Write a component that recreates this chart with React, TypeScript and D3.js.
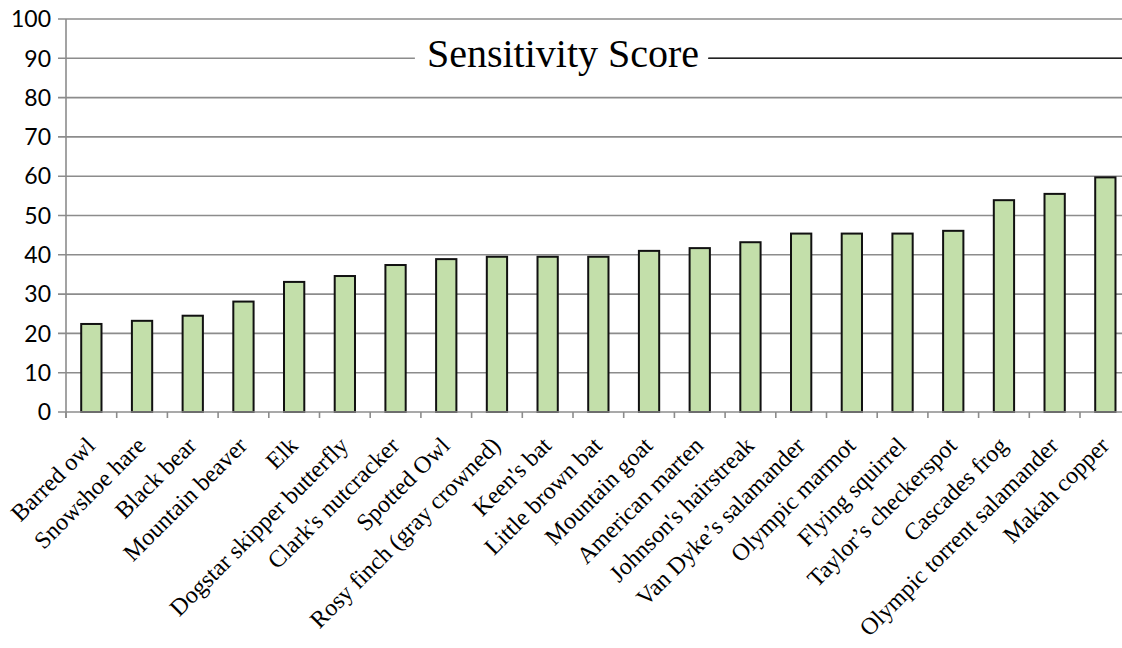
import React, { useEffect, useRef } from 'react';
import * as d3 from 'd3';

const species = [
  'Barred owl', 'Snowshoe hare', 'Black bear', 'Mountain beaver', 'Elk',
  'Dogstar skipper butterfly', "Clark's nutcracker", 'Spotted Owl',
  'Rosy finch (gray crowned)', "Keen's bat", 'Little brown bat', 'Mountain goat',
  'American marten', "Johnson's hairstreak", 'Van Dyke\u2019s salamander',
  'Olympic marmot', 'Flying squirrel', 'Taylor\u2019s checkerspot', 'Cascades frog',
  'Olympic torrent salamander', 'Makah copper',
];

const scores = [
  22.4, 23.2, 24.5, 28.1, 33.1, 34.6, 37.4, 38.9, 39.5, 39.5, 39.5, 41.0,
  41.7, 43.2, 45.4, 45.4, 45.4, 46.1, 53.9, 55.5, 59.7,
];

const yTicks = [0, 10, 20, 30, 40, 50, 60, 70, 80, 90, 100];

const chartTitle = 'Sensitivity Score';

export default function App() {
  const svgRef = useRef<SVGSVGElement>(null);

  useEffect(() => {
    if (!svgRef.current) return;
    const svg = d3.select(svgRef.current);
    svg.selectAll('*').remove();

    const left = 66;
    const right = 1130.7;
    const top = 19;
    const bottom = 412;
    const gridColor = '#8c8c8c';

    const x = d3.scaleBand<string>()
      .domain(species)
      .range([left, right])
      .paddingInner(0.6)
      .paddingOuter(0.3);

    const y = d3.scaleLinear().domain([0, 100]).range([bottom, top]);

    // gridlines and y ticks
    svg.append('g')
      .selectAll('line')
      .data(yTicks.filter(d => d !== 0))
      .enter()
      .append('line')
      .attr('x1', 58)
      .attr('x2', 1122)
      .attr('y1', d => y(d))
      .attr('y2', d => y(d))
      .attr('stroke', gridColor)
      .attr('stroke-width', 1.6);

    svg.append('g')
      .selectAll('text')
      .data(yTicks)
      .enter()
      .append('text')
      .attr('x', 51)
      .attr('y', d => y(d))
      .attr('dy', '0.36em')
      .attr('text-anchor', 'end')
      .attr('font-family', 'Lato, "Noto Sans", sans-serif')
      .attr('font-size', 23)
      .attr('fill', '#000')
      .text(d => d);

    // title over the 90 gridline
    const titleX = 563;
    const titleEl = svg.append('text')
      .attr('x', titleX)
      .attr('y', 67)
      .attr('text-anchor', 'middle')
      .attr('font-family', '"Liberation Serif", "DejaVu Serif", serif')
      .attr('font-size', 40)
      .attr('fill', '#000')
      .text(chartTitle);
    const bb = (titleEl.node() as SVGTextElement).getBBox();
    svg.insert('rect', () => titleEl.node())
      .attr('x', bb.x - 12)
      .attr('y', y(90) - 4)
      .attr('width', bb.width + 22)
      .attr('height', 8)
      .attr('fill', '#fff');
    svg.append('line')
      .attr('x1', bb.x + bb.width + 9)
      .attr('x2', 1122)
      .attr('y1', y(90))
      .attr('y2', y(90))
      .attr('stroke', '#222')
      .attr('stroke-width', 1.6);

    // bars
    svg.append('g')
      .selectAll('rect')
      .data(scores)
      .enter()
      .append('rect')
      .attr('x', (d, i) => x(species[i]) as number)
      .attr('y', d => y(d))
      .attr('width', x.bandwidth())
      .attr('height', d => y(0) - y(d))
      .attr('fill', '#c3dfaa')
      .attr('stroke', '#111')
      .attr('stroke-width', 2);

    // axes
    svg.append('line')
      .attr('x1', left).attr('x2', left)
      .attr('y1', top).attr('y2', bottom + 6)
      .attr('stroke', gridColor).attr('stroke-width', 1.6);
    svg.append('line')
      .attr('x1', 58).attr('x2', 1122)
      .attr('y1', bottom).attr('y2', bottom)
      .attr('stroke', gridColor).attr('stroke-width', 1.6);

    const step = x.step();
    const boundaries = d3.range(species.length + 1).map(i => left + i * step);
    svg.append('g')
      .selectAll('line')
      .data(boundaries.filter(b => b < 1122))
      .enter()
      .append('line')
      .attr('x1', d => d).attr('x2', d => d)
      .attr('y1', bottom).attr('y2', bottom + 6)
      .attr('stroke', gridColor).attr('stroke-width', 1.6);

    // rotated category labels
    svg.append('g')
      .selectAll('text')
      .data(species)
      .enter()
      .append('text')
      .attr('transform', d => `translate(${(x(d) as number) + x.bandwidth() / 2 + 5},447) rotate(-45)`)
      .attr('text-anchor', 'end')
      .attr('font-family', '"Liberation Serif", "Times New Roman", serif')
      .attr('font-size', 24)
      .attr('fill', '#000')
      .text(d => d);
  }, []);

  return (
    <div style={{ position: 'absolute', left: 0, top: 0 }}>
      <svg ref={svgRef} width={1122} height={648} style={{ display: 'block', background: '#fff' }} />
    </div>
  );
}
